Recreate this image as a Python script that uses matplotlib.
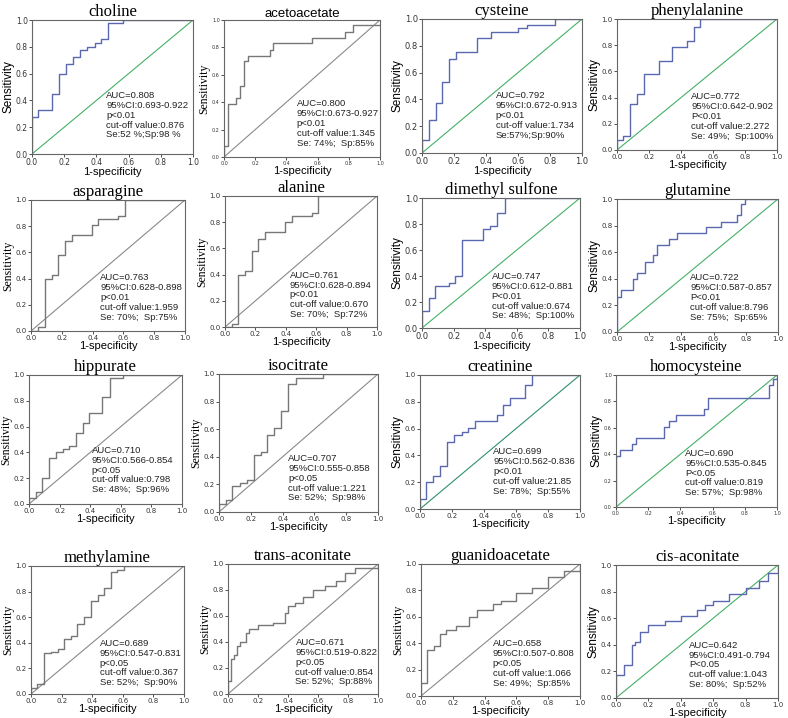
import matplotlib
matplotlib.use("Agg")
import matplotlib.pyplot as plt

# ---- data ----
names = ["choline", "acetoacetate", "cysteine", "phenylalanine",
         "asparagine", "alanine", "dimethyl sulfone", "glutamine",
         "hippurate", "isocitrate", "creatinine", "homocysteine",
         "methylamine", "trans-aconitate", "guanidoacetate", "cis-aconitate"]

choline_fpr = [0, 0, 0.04, 0.125, 0.17, 0.21, 0.255, 0.30, 0.34, 0.39, 0.43, 0.475, 0.565, 1.0]
choline_tpr = [0, 0.275, 0.33, 0.45, 0.60, 0.675, 0.725, 0.775, 0.80, 0.83, 0.855, 0.98, 1.0, 1.0]

acetoacetate_fpr = [0, 0, 0.025, 0.08, 0.10, 0.128, 0.155, 0.293, 0.315, 0.567, 0.775, 0.83, 1.0]
acetoacetate_tpr = [0, 0.08, 0.39, 0.43, 0.52, 0.70, 0.74, 0.78, 0.83, 0.87, 0.915, 0.96, 0.96]

cysteine_fpr = [0, 0, 0.044, 0.086, 0.128, 0.17, 0.215, 0.345, 0.43, 0.60, 0.655, 0.83, 1.0]
cysteine_tpr = [0, 0.10, 0.25, 0.375, 0.53, 0.705, 0.755, 0.855, 0.90, 0.93, 0.955, 1.0, 1.0]

phenylalanine_fpr = [0, 0, 0.037, 0.079, 0.127, 0.168, 0.26, 0.345, 0.437, 0.48, 0.52, 1.0]
phenylalanine_tpr = [0, 0.076, 0.106, 0.354, 0.43, 0.58, 0.68, 0.785, 0.835, 0.937, 1.0, 1.0]

asparagine_fpr = [0, 0.048, 0.09, 0.134, 0.177, 0.22, 0.264, 0.394, 0.437, 0.567, 0.61, 1.0]
asparagine_tpr = [0, 0.033, 0.40, 0.43, 0.58, 0.687, 0.733, 0.81, 0.855, 0.88, 1.0, 1.0]

alanine_fpr = [0, 0.044, 0.088, 0.13, 0.176, 0.22, 0.264, 0.396, 0.44, 0.57, 0.615, 1.0]
alanine_tpr = [0, 0.02, 0.40, 0.43, 0.578, 0.675, 0.725, 0.80, 0.85, 0.873, 1.0, 1.0]

dms_fpr = [0, 0, 0.042, 0.085, 0.17, 0.21, 0.254, 0.387, 0.43, 0.476, 0.524, 1.0]
dms_tpr = [0, 0.128, 0.23, 0.326, 0.35, 0.40, 0.68, 0.76, 0.787, 0.885, 1.0, 1.0]

glutamine_fpr = [0, 0, 0.025, 0.0975, 0.124, 0.174, 0.222, 0.249, 0.326, 0.373, 0.55, 0.647,
                 0.747, 0.77, 0.797, 1.0]
glutamine_tpr = [0, 0.264, 0.314, 0.397, 0.44, 0.528, 0.578, 0.653, 0.696, 0.746, 0.79, 0.83,
                 0.88, 0.96, 1.0, 1.0]

hippurate_fpr = [0, 0, 0.044, 0.0875, 0.131, 0.175, 0.219, 0.263, 0.306, 0.35, 0.394, 0.48,
                 0.53, 0.613, 1.0]
hippurate_tpr = [0, 0.05, 0.096, 0.20, 0.354, 0.40, 0.424, 0.45, 0.553, 0.63, 0.708, 0.827,
                 0.974, 1.0, 1.0]

isocitrate_fpr = [0, 0, 0.042, 0.084, 0.13, 0.179, 0.221, 0.263, 0.305, 0.347, 0.39, 0.436,
                  0.484, 0.657, 1.0]
isocitrate_tpr = [0, 0.06, 0.09, 0.187, 0.211, 0.235, 0.413, 0.437, 0.558, 0.607, 0.733, 0.93,
                  0.971, 1.0, 1.0]

creatinine_fpr = [0, 0, 0.0375, 0.083, 0.125, 0.171, 0.2125, 0.26, 0.302, 0.344, 0.479, 0.52,
                  0.5625, 0.656, 0.698, 1.0]
creatinine_tpr = [0, 0.074, 0.20, 0.248, 0.323, 0.50, 0.553, 0.578, 0.603, 0.653, 0.702, 0.777,
                  0.826, 0.926, 1.0, 1.0]

homocysteine_fpr = [0, 0, 0.025, 0.099, 0.124, 0.30, 0.327, 0.373, 0.549, 0.569, 0.948, 0.973,
                    1.0]
homocysteine_tpr = [0, 0.39, 0.435, 0.476, 0.519, 0.608, 0.65, 0.696, 0.739, 0.828, 0.924, 0.967,
                    1.0]

methylamine_fpr = [0, 0, 0.04, 0.085, 0.13, 0.175, 0.215, 0.26, 0.30, 0.345, 0.39, 0.435, 0.48,
                   0.52, 0.56, 0.61, 1.0]
methylamine_tpr = [0, 0.05, 0.08, 0.32, 0.33, 0.35, 0.43, 0.45, 0.55, 0.60, 0.73, 0.77, 0.83,
                   0.95, 0.97, 1.0, 1.0]

trans_fpr = [0, 0, 0.02, 0.04, 0.06, 0.08, 0.12, 0.14, 0.20, 0.30, 0.38, 0.40, 0.45, 0.50, 0.57,
             0.65, 0.72, 0.78, 0.85, 1.0]
trans_tpr = [0, 0.10, 0.27, 0.30, 0.37, 0.40, 0.47, 0.50, 0.53, 0.55, 0.62, 0.68, 0.70, 0.75,
             0.80, 0.83, 0.87, 0.93, 0.97, 1.0]

guanido_fpr = [0, 0, 0.04, 0.08, 0.12, 0.16, 0.22, 0.30, 0.35, 0.45, 0.50, 0.60, 0.70, 0.80,
               0.90, 1.0]
guanido_tpr = [0, 0.10, 0.35, 0.38, 0.47, 0.50, 0.53, 0.60, 0.65, 0.70, 0.72, 0.78, 0.82, 0.90,
               0.95, 1.0]

cis_fpr = [0, 0, 0.05, 0.10, 0.12, 0.15, 0.20, 0.30, 0.40, 0.50, 0.55, 0.60, 0.70, 0.80, 0.88,
           0.94, 1.0]
cis_tpr = [0, 0.17, 0.25, 0.40, 0.42, 0.50, 0.55, 0.58, 0.62, 0.66, 0.70, 0.73, 0.78, 0.83, 0.88,
           0.94, 1.0]

fpr_list = [choline_fpr, acetoacetate_fpr, cysteine_fpr, phenylalanine_fpr,
            asparagine_fpr, alanine_fpr, dms_fpr, glutamine_fpr,
            hippurate_fpr, isocitrate_fpr, creatinine_fpr, homocysteine_fpr,
            methylamine_fpr, trans_fpr, guanido_fpr, cis_fpr]
tpr_list = [choline_tpr, acetoacetate_tpr, cysteine_tpr, phenylalanine_tpr,
            asparagine_tpr, alanine_tpr, dms_tpr, glutamine_tpr,
            hippurate_tpr, isocitrate_tpr, creatinine_tpr, homocysteine_tpr,
            methylamine_tpr, trans_tpr, guanido_tpr, cis_tpr]

auc = ["0.808", "0.800", "0.792", "0.772", "0.763", "0.761", "0.747", "0.722",
       "0.710", "0.707", "0.699", "0.690", "0.689", "0.671", "0.658", "0.642"]
ci = ["0.693-0.922", "0.673-0.927", "0.672-0.913", "0.642-0.902",
      "0.628-0.898", "0.628-0.894", "0.612-0.881", "0.587-0.857",
      "0.566-0.854", "0.555-0.858", "0.562-0.836", "0.535-0.845",
      "0.547-0.831", "0.519-0.822", "0.507-0.808", "0.491-0.794"]
pval = ["p<0.01", "p<0.01", "p<0.01", "P<0.01", "p<0.01", "p<0.01", "P<0.01", "P<0.01",
        "p<0.05", "p<0.05", "p<0.01", "P<0.05", "p<0.05", "p<0.05", "p<0.05", "P<0.05"]
cutoff = ["0.876", "1.345", "1.734", "2.272", "1.959", "0.670", "0.674", "8.796",
          "0.798", "1.221", "21.85", "0.819", "0.367", "0.854", "1.066", "1.043"]
se_sp = ["Se:52 %;Sp:98 %", "Se: 74%;  Sp:85%", "Se:57%;Sp:90%", "Se: 49%;  Sp:100%",
         "Se: 70%;  Sp:75%", "Se: 70%;  Sp:72%", "Se: 48%;  Sp:100%", "Se: 75%;  Sp:65%",
         "Se: 48%;  Sp:96%", "Se: 52%;  Sp:98%", "Se: 78%;  Sp:55%", "Se: 57%;  Sp:98%",
         "Se: 52%;  Sp:90%", "Se: 52%;  Sp:88%", "Se: 49%;  Sp:85%", "Se: 80%;  Sp:52%"]

# ---- layout / style ----
W, H = 788, 718
# axes boxes in pixels: left, top, right, bottom
boxes = [(32, 20, 193, 154), (224, 20, 380, 157), (422, 19, 582, 153), (617, 19, 777, 150),
         (31, 200, 185, 331), (225, 196, 377, 327), (422, 198, 580, 328), (617, 199, 778, 332),
         (29, 375, 182, 504), (219, 374, 378, 512), (420, 375, 580, 509), (616, 375, 777, 507),
         (31, 566, 184, 694), (228, 564, 378, 694), (421, 564, 580, 696), (616, 565, 778, 698)]
blue_panel = [True, False, True, True, False, False, True, True,
              False, False, True, True, False, False, False, True]
text_xy = [(0.46, 0.47), (0.465, 0.42), (0.46, 0.46), (0.465, 0.44),
           (0.45, 0.44), (0.425, 0.43), (0.44, 0.43), (0.456, 0.44),
           (0.41, 0.45), (0.436, 0.42), (0.458, 0.46), (0.43, 0.44),
           (0.45, 0.43), (0.45, 0.43), (0.45, 0.43), (0.45, 0.43)]
tick_size = [5.5, 3.5, 6, 5, 5, 5, 6, 5, 5, 5, 5, 3.5, 5, 5, 5, 5]

fig = plt.figure(figsize=(W / 100, H / 100), dpi=100)

for i, name in enumerate(names):
    l, t, r, b = boxes[i]
    ax = fig.add_axes([l / W, 1 - b / H, (r - l) / W, (b - t) / H])
    if blue_panel[i]:
        curve_c, diag_c = "#5b68b0", "#45b065"
        if name == "creatinine":
            diag_c = "#2f8f6a"
    else:
        curve_c, diag_c = "#777777", "#8a8a8a"
    ax.plot([0, 1], [0, 1], color=diag_c, lw=0.8)
    ax.plot(fpr_list[i], tpr_list[i], drawstyle="steps-post", color=curve_c, lw=1.0)
    ax.set_xlim(0, 1)
    ax.set_ylim(0, 1)
    ax.set_xticks([0, 0.2, 0.4, 0.6, 0.8, 1.0])
    ax.set_yticks([0, 0.2, 0.4, 0.6, 0.8, 1.0])
    ax.set_xticklabels(["0.0", "0.2", "0.4", "0.6", "0.8", "1.0"])
    ax.set_yticklabels(["0.0", "0.2", "0.4", "0.6", "0.8", "1.0"])
    ax.tick_params(labelsize=tick_size[i], length=2, width=0.6, pad=1, colors="#333333")
    for s in ax.spines.values():
        s.set_color("#666666")
        s.set_linewidth(0.8)

    title_font = "Liberation Sans" if name == "acetoacetate" else "Liberation Serif"
    title_size = 9.5 if name == "acetoacetate" else 12
    ax.set_title(name, fontsize=title_size, family=title_font, pad=2)
    ylab_font = "Liberation Sans" if blue_panel[i] else "Liberation Serif"
    ax.set_ylabel("Sensitivity", fontsize=8.5, family=ylab_font, labelpad=1)
    ax.set_xlabel("1-specificity", fontsize=8, family="Liberation Sans", labelpad=0)

    txt = "AUC=%s\n95%%CI:%s\n%s\ncut-off value:%s\n%s" % (auc[i], ci[i], pval[i], cutoff[i], se_sp[i])
    ax.text(text_xy[i][0], text_xy[i][1], txt, transform=ax.transAxes, fontsize=6.8,
            family="Liberation Sans", ha="left", va="top", linespacing=1.12, color="#222222")

fig.savefig("out.png", dpi=100)
